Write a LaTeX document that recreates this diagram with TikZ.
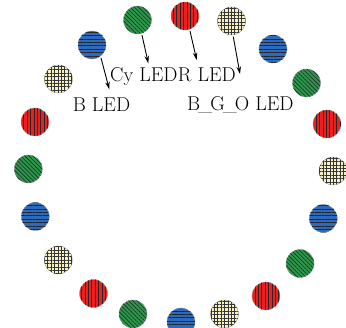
\documentclass[tikz,border=0pt]{standalone}
\usetikzlibrary{patterns.meta,arrows.meta}
\definecolor{ledred}{RGB}{234,32,32}
\definecolor{ledgreen}{RGB}{42,152,74}
\definecolor{ledblue}{RGB}{44,106,190}
\definecolor{ledcream}{RGB}{246,241,196}
\newcommand{\shortus}{\kern-1.9pt\_\kern-1.9pt}
\tikzset{
  led/.style={circle,minimum size=28pt,inner sep=0pt,draw=gray!80,line width=0.4pt},
  rled/.style={led,fill=ledred,postaction={pattern={Lines[angle=90,distance=3.4pt,line width=0.65pt]},pattern color=black!85}},
  gled/.style={led,fill=ledgreen,postaction={pattern={Lines[angle=-45,distance=2.9pt,line width=0.6pt]},pattern color=black!85}},
  bled/.style={led,fill=ledblue,postaction={pattern={Lines[angle=0,distance=3.4pt,line width=0.65pt]},pattern color=black!85}},
  cled/.style={led,fill=ledcream,postaction={pattern={Hatch[angle=0,distance=3.4pt,line width=0.45pt]},pattern color=black!80}},
  lbl/.style={font=\fontsize{20}{22}\selectfont,inner sep=0pt},
  pointer/.style={-{Stealth[length=7.5pt,width=4.5pt]},line width=0.9pt,shorten <=1.5pt}
}
\begin{document}
\begin{tikzpicture}[x=1pt,y=1pt]
\useasboundingbox (0,0) rectangle (346,328);
\begin{scope}
\clip (0,0) rectangle (346,328);
\node[cled] (l0) at (333,157) {};
\node[rled] (l1) at (327,204) {};
\node[gled] (l2) at (306.5,245) {};
\node[bled] (l3) at (273,279) {};
\node[cled] (l4) at (231.5,307) {};
\node[rled] (l5) at (185,312) {};
\node[gled] (l6) at (137.5,308) {};
\node[bled] (l7) at (92,283) {};
\node[cled] (l8) at (58.5,249) {};
\node[rled] (l9) at (35,206) {};
\node[gled] (l10) at (28.3,159) {};
\node[bled] (l11) at (35.3,111.5) {};
\node[cled] (l12) at (58.3,68) {};
\node[rled] (l13) at (93.5,34.5) {};
\node[gled] (l14) at (133,14) {};
\node[bled] (l15) at (181,6) {};
\node[cled] (l16) at (224.5,14) {};
\node[rled] (l17) at (266,32) {};
\node[gled] (l18) at (300,64.5) {};
\node[bled] (l19) at (323.3,109.5) {};
\end{scope}
\node[lbl,anchor=base west] (tcy) at (110,246.5) {Cy LED};
\node[lbl,anchor=base west] (tr) at (tcy.base east) {R LED};
\node[lbl,anchor=base] (tb) at (101.5,216.5) {B LED};
\node[lbl,anchor=base west] (tbgo) at (187,217) {B\shortus G\shortus O LED};
\coordinate (eb) at (109.3,238.7);
\coordinate (eg) at (148.3,264.7);
\coordinate (er) at (196.7,268);
\coordinate (ec) at (240,254);
\draw[pointer] (l7.-53) -- (eb);
\draw[pointer] (l6.-73) -- (eg);
\draw[pointer] (l5.-71) -- (er);
\draw[pointer] (l4.-84) -- (ec);
\end{tikzpicture}
\end{document}
